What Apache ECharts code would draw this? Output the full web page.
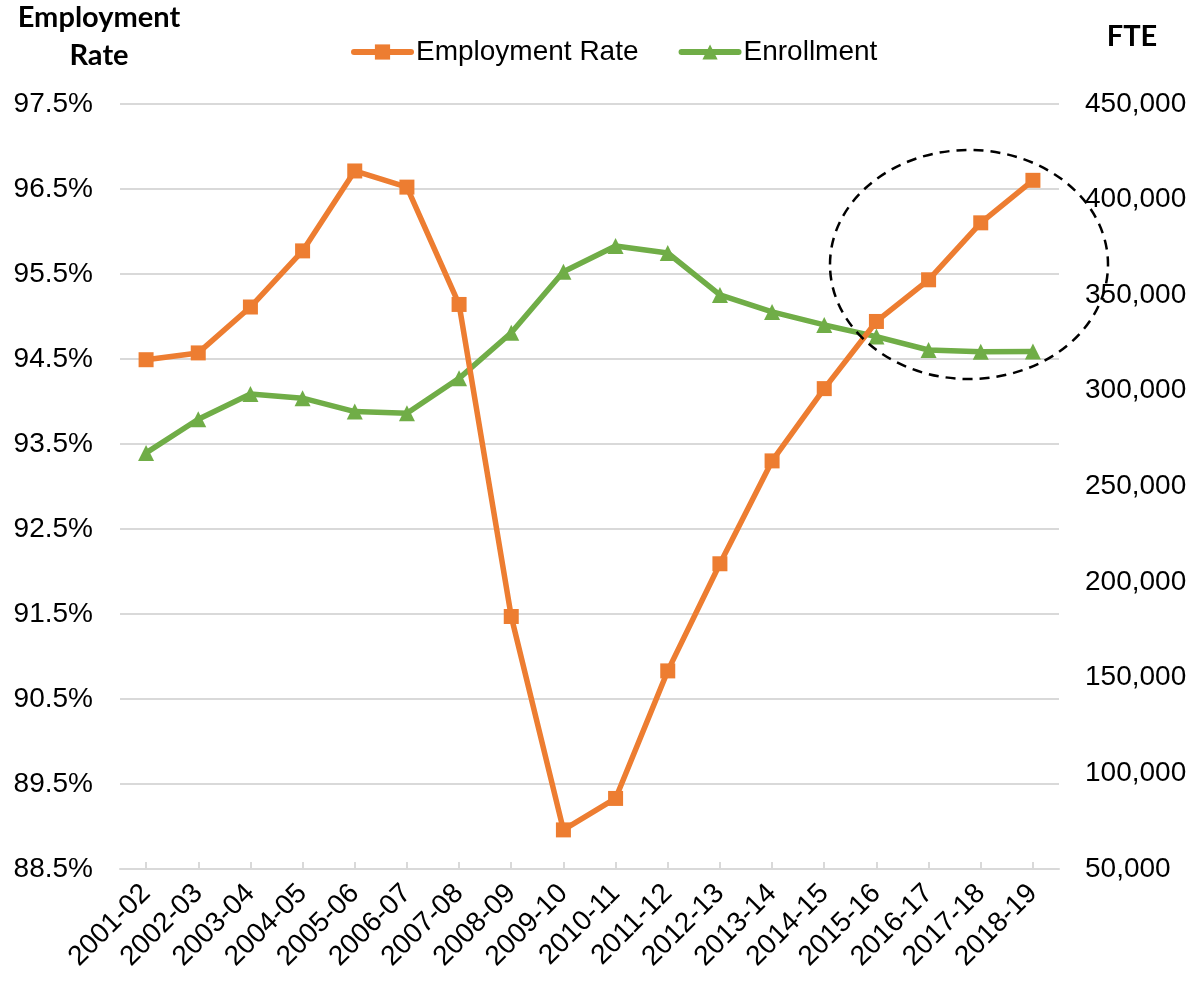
<!DOCTYPE html>
<html>
<head>
<meta charset="utf-8">
<script src="https://cdn.jsdelivr.net/npm/echarts@6/dist/echarts.min.js"></script>
<style>
  html, body { margin: 0; padding: 0; background: #fff; }
  #chart { width: 1203px; height: 983px; }
</style>
</head>
<body>
<div id="chart"></div>
<script>
// School years on the horizontal axis
const years = ['2001-02','2002-03','2003-04','2004-05','2005-06','2006-07','2007-08','2008-09','2009-10',
               '2010-11','2011-12','2012-13','2013-14','2014-15','2015-16','2016-17','2017-18','2018-19'];

// Employment rate (%)
const employmentRate = [94.49, 94.57, 95.11, 95.77, 96.71, 96.52, 95.14, 91.47, 88.96,
                        89.33, 90.83, 92.09, 93.30, 94.15, 94.94, 95.43, 96.10, 96.60];

// Enrollment (FTE)
const enrollment = [267500, 285100, 298300, 296100, 289100, 288200, 306500, 330300, 362200,
                    375700, 372000, 350100, 341200, 334400, 328300, 321300, 320400, 320500];

// Axis ranges
const rateAxis = { min: 88.5, max: 97.5, step: 1 };
const fteAxis = { min: 50000, max: 450000, step: 50000 };

const FONT = '"Liberation Sans", Arial, sans-serif';
const TITLE_FONT = 'Lato, "Open Sans", sans-serif';
const ORANGE = '#ED7D31';
const GREEN = '#70AD47';
const GRID_GRAY = '#D9D9D9';

try {
  if (echarts.graphic.getShapeClass && !echarts.graphic.getShapeClass('ellipse')) {
    echarts.graphic.registerShape('ellipse', echarts.graphic.Ellipse);
  }
} catch (e) {}

const chart = echarts.init(document.getElementById('chart'), null, { renderer: 'canvas' });

chart.setOption({
  animation: false,
  backgroundColor: '#fff',
  grid: { left: 120, right: 144, top: 103.8, bottom: 114, containLabel: false },
  legend: {
    left: 346,
    top: 33,
    itemWidth: 57,
    itemHeight: 19,
    itemGap: 40,
    lineStyle: { width: 6, cap: 'round' },
    textStyle: { fontFamily: FONT, fontSize: 28, color: '#000' },
    data: ['Employment Rate', 'Enrollment']
  },
  xAxis: {
    type: 'category',
    data: years,
    boundaryGap: true,
    axisLine: { lineStyle: { color: GRID_GRAY, width: 2 } },
    axisTick: { show: true, alignWithLabel: true, inside: true, length: 7, lineStyle: { color: GRID_GRAY, width: 2 } },
    axisLabel: { rotate: 45, interval: 0, margin: 20, fontFamily: FONT, fontSize: 28, color: '#000' },
    splitLine: { show: false }
  },
  yAxis: [
    {
      type: 'value',
      min: rateAxis.min,
      max: rateAxis.max,
      interval: rateAxis.step,
      position: 'left',
      axisLine: { show: false },
      axisTick: { show: false },
      axisLabel: {
        margin: 27,
        fontFamily: FONT, fontSize: 28, color: '#000',
        formatter: v => v.toFixed(1) + '%'
      },
      splitLine: { show: true, lineStyle: { color: GRID_GRAY, width: 2 } }
    },
    {
      type: 'value',
      min: fteAxis.min,
      max: fteAxis.max,
      interval: fteAxis.step,
      position: 'right',
      axisLine: { show: false },
      axisTick: { show: false },
      axisLabel: {
        margin: 26,
        fontFamily: FONT, fontSize: 28, color: '#000',
        formatter: v => v.toLocaleString('en-US')
      },
      splitLine: { show: false }
    }
  ],
  series: [
    {
      name: 'Enrollment',
      type: 'line',
      yAxisIndex: 1,
      data: enrollment,
      symbol: 'triangle',
      symbolSize: 16,
      showAllSymbol: true,
      color: GREEN,
      itemStyle: { color: GREEN },
      lineStyle: { color: GREEN, width: 5.5 },
      z: 2
    },
    {
      name: 'Employment Rate',
      type: 'line',
      yAxisIndex: 0,
      data: employmentRate,
      symbol: 'rect',
      symbolSize: 15,
      showAllSymbol: true,
      color: ORANGE,
      itemStyle: { color: ORANGE },
      lineStyle: { color: ORANGE, width: 5.5 },
      z: 3
    }
  ],
  graphic: [
    {
      type: 'text',
      x: 99, y: -1,
      style: {
        text: 'Employment\nRate',
        font: 'bold 29px ' + TITLE_FONT,
        fill: '#000',
        align: 'center',
        verticalAlign: 'top',
        lineHeight: 38
      }
    },
    {
      type: 'text',
      x: 1132, y: 18,
      style: {
        text: 'FTE',
        font: 'bold 29px ' + TITLE_FONT,
        fill: '#000',
        align: 'center',
        verticalAlign: 'top',
        lineHeight: 38
      }
    },
    {
      type: 'ellipse',
      shape: { cx: 969, cy: 264.5, rx: 139, ry: 114.5 },
      style: { fill: 'none', stroke: '#000', lineWidth: 2.5, lineDash: [10, 7] },
      z: 10
    }
  ]
});
</script>
</body>
</html>
